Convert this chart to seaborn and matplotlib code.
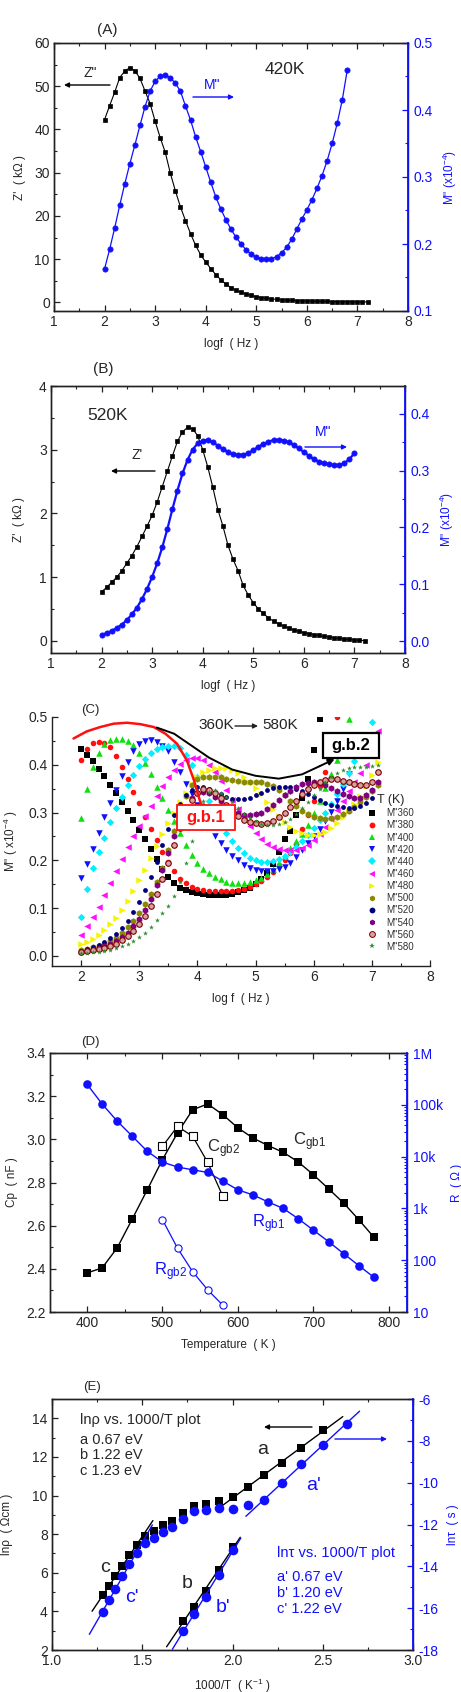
import numpy as np
import matplotlib
matplotlib.use("Agg")
import matplotlib.pyplot as plt
import seaborn as sns
from matplotlib.ticker import MultipleLocator, LogLocator, FixedLocator, FixedFormatter, NullFormatter
from matplotlib.lines import Line2D
from matplotlib.patches import Rectangle

# ------------------------------------------------------------------ data
# Panel A (420 K): Z'' (kOhm) and M'' (x1e-4) vs log f, step 0.1 starting at logf = 2.0
A_ZPP = [42.3, 45.5, 48.6, 52.0, 53.5, 54.3, 53.6, 51.8, 48.9, 46.0,
         41.9, 38.1, 34.7, 29.9, 25.8, 22.1, 18.9, 15.9, 13.2, 11.0,
         9.3, 7.8, 6.4, 5.2, 4.2, 3.4, 2.8, 2.3, 1.95, 1.6,
         1.3, 1.1, 0.95, 0.8, 0.7, 0.6, 0.52, 0.46, 0.4, 0.36,
         0.32, 0.28, 0.25, 0.22, 0.2, 0.18, 0.16, 0.14, 0.13, 0.12,
         0.11, 0.1, 0.09]
A_MPP = [0.163, 0.192, 0.224, 0.258, 0.290, 0.320, 0.348, 0.377, 0.405, 0.428,
         0.443, 0.450, 0.452, 0.448, 0.440, 0.428, 0.406, 0.385, 0.360, 0.338,
         0.315, 0.292, 0.270, 0.252, 0.236, 0.222, 0.210, 0.200, 0.191, 0.185,
         0.180, 0.178, 0.177, 0.178, 0.181, 0.187, 0.195, 0.207, 0.222, 0.237,
         0.251, 0.266, 0.283, 0.302, 0.324, 0.350, 0.380, 0.415, 0.460]

# Panel B (520 K)
B_ZP = [0.77, 0.84, 0.92, 1.0, 1.1, 1.22, 1.34, 1.48, 1.64, 1.8,
        1.97, 2.18, 2.42, 2.66, 2.9, 3.13, 3.28, 3.35, 3.33, 3.22,
        3.0, 2.73, 2.41, 2.06, 1.8, 1.5, 1.28, 1.1, 0.87, 0.72,
        0.6, 0.5, 0.43, 0.36, 0.31, 0.27, 0.23, 0.2, 0.17, 0.15,
        0.13, 0.115, 0.1, 0.085, 0.07, 0.06, 0.05, 0.04, 0.03, 0.022,
        0.015, 0.01, 0.005]
B_MPP = [0.011, 0.014, 0.018, 0.023, 0.029, 0.037, 0.047, 0.059, 0.074, 0.092,
         0.113, 0.137, 0.165, 0.197, 0.232, 0.265, 0.295, 0.319, 0.337, 0.348,
         0.353, 0.354, 0.350, 0.344, 0.338, 0.333, 0.329, 0.328, 0.328, 0.331,
         0.336, 0.342, 0.347, 0.351, 0.354, 0.354, 0.353, 0.350, 0.345, 0.339,
         0.333, 0.326, 0.320, 0.316, 0.313, 0.311, 0.310, 0.310, 0.313, 0.320,
         0.331]

# Panel C: M'' spectra 360 K ... 580 K, step 0.1 starting at logf = 2.0
C_M360 = [0.432, 0.420, 0.408, 0.392, 0.376, 0.358, 0.340, 0.322, 0.303, 0.284,
          0.264, 0.244, 0.223, 0.203, 0.183, 0.166, 0.153, 0.143, 0.137, 0.133,
          0.131, 0.129, 0.128, 0.127, 0.127, 0.128, 0.130, 0.133, 0.137, 0.142,
          0.150, 0.160, 0.173, 0.193, 0.218, 0.245, 0.262, 0.295, 0.330, 0.370,
          0.430, 0.495]
C_M380 = [0.410, 0.432, 0.445, 0.448, 0.446, 0.437, 0.418, 0.396, 0.370, 0.344,
          0.320, 0.291, 0.266, 0.243, 0.218, 0.196, 0.177, 0.162, 0.152, 0.145,
          0.141, 0.138, 0.136, 0.135, 0.135, 0.135, 0.136, 0.138, 0.141, 0.145,
          0.150, 0.157, 0.165, 0.176, 0.190, 0.200, 0.215, 0.235, 0.265, 0.295,
          0.325, 0.355, 0.385, 0.430, 0.500]
C_M400 = [0.288, 0.350, 0.395, 0.425, 0.443, 0.452, 0.455, 0.455, 0.450, 0.442,
          0.425, 0.403, 0.380, 0.354, 0.330, 0.305, 0.282, 0.257, 0.233, 0.212,
          0.195, 0.183, 0.174, 0.166, 0.160, 0.155, 0.153, 0.152, 0.152, 0.154,
          0.158, 0.164, 0.172, 0.182, 0.195, 0.210, 0.225, 0.240, 0.255, 0.275,
          0.300, 0.325, 0.352, 0.380, 0.410, 0.450, 0.495]
C_M420 = A_MPP
C_M440 = [0.082, 0.140, 0.185, 0.218, 0.246, 0.280, 0.310, 0.333, 0.358, 0.378,
          0.397, 0.412, 0.424, 0.432, 0.438, 0.440, 0.440, 0.436, 0.420, 0.400,
          0.375, 0.350, 0.325, 0.300, 0.277, 0.257, 0.240, 0.226, 0.215, 0.206,
          0.200, 0.197, 0.197, 0.199, 0.203, 0.210, 0.218, 0.228, 0.240, 0.254,
          0.268, 0.284, 0.300, 0.318, 0.338, 0.360, 0.383, 0.408, 0.435, 0.460,
          0.490]
C_M460 = [0.044, 0.062, 0.082, 0.103, 0.128, 0.152, 0.177, 0.202, 0.227, 0.250,
          0.272, 0.293, 0.313, 0.334, 0.355, 0.374, 0.390, 0.402, 0.410, 0.414,
          0.415, 0.410, 0.400, 0.385, 0.367, 0.347, 0.327, 0.307, 0.288, 0.272,
          0.258, 0.245, 0.235, 0.228, 0.224, 0.222, 0.221, 0.222, 0.226, 0.233,
          0.243, 0.255, 0.270, 0.287, 0.305, 0.325, 0.345, 0.365, 0.382, 0.400,
          0.430, 0.470]
C_M480 = [0.026, 0.030, 0.036, 0.044, 0.054, 0.066, 0.080, 0.096, 0.114, 0.136,
          0.158, 0.180, 0.205, 0.230, 0.255, 0.278, 0.300, 0.322, 0.342, 0.360,
          0.374, 0.384, 0.390, 0.393, 0.394, 0.393, 0.389, 0.382, 0.374, 0.365,
          0.352, 0.338, 0.323, 0.307, 0.292, 0.280, 0.270, 0.262, 0.257, 0.254,
          0.253, 0.255, 0.260, 0.268, 0.278, 0.290, 0.303, 0.318, 0.335, 0.355,
          0.378, 0.405]
C_M500 = [0.013, 0.015, 0.018, 0.021, 0.026, 0.031, 0.038, 0.048, 0.060, 0.074,
          0.090, 0.108, 0.130, 0.155, 0.185, 0.222, 0.262, 0.300, 0.335, 0.358,
          0.370, 0.374, 0.375, 0.375, 0.374, 0.371, 0.368, 0.366, 0.365, 0.364,
          0.364, 0.363, 0.360, 0.355, 0.347, 0.336, 0.324, 0.313, 0.303, 0.296,
          0.291, 0.288, 0.287, 0.288, 0.291, 0.296, 0.303, 0.312, 0.322, 0.333,
          0.345, 0.358]
C_M520 = B_MPP
C_M540 = [0.009, 0.011, 0.013, 0.016, 0.020, 0.025, 0.031, 0.039, 0.049, 0.062,
          0.078, 0.097, 0.120, 0.148, 0.180, 0.215, 0.250, 0.282, 0.310, 0.330,
          0.341, 0.343, 0.340, 0.333, 0.324, 0.314, 0.305, 0.299, 0.295, 0.294,
          0.296, 0.300, 0.307, 0.316, 0.326, 0.336, 0.345, 0.353, 0.359, 0.362,
          0.363, 0.362, 0.358, 0.352, 0.345, 0.339, 0.334, 0.331, 0.331, 0.336,
          0.348, 0.365]
C_M560 = [0.009, 0.010, 0.012, 0.014, 0.017, 0.021, 0.026, 0.033, 0.042, 0.053,
          0.067, 0.084, 0.105, 0.130, 0.160, 0.195, 0.232, 0.268, 0.300, 0.326,
          0.342, 0.349, 0.348, 0.341, 0.330, 0.316, 0.303, 0.292, 0.285, 0.280,
          0.278, 0.277, 0.278, 0.282, 0.290, 0.300, 0.312, 0.325, 0.338, 0.349,
          0.358, 0.365, 0.369, 0.371, 0.370, 0.367, 0.363, 0.359, 0.357, 0.358,
          0.365, 0.385]
C_M580 = [0.006, 0.007, 0.008, 0.009, 0.011, 0.013, 0.016, 0.020, 0.025, 0.031,
          0.039, 0.049, 0.061, 0.076, 0.090, 0.105, 0.125, 0.155, 0.195, 0.240,
          0.290, 0.325, 0.343, 0.347, 0.342, 0.333, 0.322, 0.310, 0.298, 0.289,
          0.282, 0.277, 0.275, 0.274, 0.276, 0.280, 0.287, 0.297, 0.309, 0.322,
          0.336, 0.350, 0.363, 0.374, 0.383, 0.389, 0.393, 0.395, 0.396, 0.396,
          0.397, 0.400]
C_TEMPS = [360, 380, 400, 420, 440, 460, 480, 500, 520, 540, 560, 580]
C_SERIES = [C_M360, C_M380, C_M400, C_M420, C_M440, C_M460,
            C_M480, C_M500, C_M520, C_M540, C_M560, C_M580]
# guide curves (annotation arrows) in panel C
C_RED_GUIDE_X = [1.87, 2.10, 2.33, 2.56, 2.79, 3.02, 3.25, 3.45, 3.65, 3.82, 3.94, 4.05, 4.12]
C_RED_GUIDE_Y = [0.455, 0.470, 0.479, 0.486, 0.488, 0.485, 0.479, 0.465, 0.444, 0.409, 0.368, 0.322, 0.300]
C_BLK_GUIDE_X = [3.30, 3.60, 3.90, 4.20, 4.60, 5.00, 5.40, 5.80, 6.10, 6.36]
C_BLK_GUIDE_Y = [0.478, 0.465, 0.440, 0.415, 0.390, 0.377, 0.371, 0.380, 0.397, 0.412]

# Panel D
D_T = [400, 420, 440, 460, 480, 500, 520, 540, 560, 580, 600, 620, 640, 660, 680, 700, 720, 740, 760, 780]
D_CGB1 = [2.381, 2.404, 2.497, 2.631, 2.767, 2.906, 3.03, 3.137, 3.164, 3.114,
          3.053, 3.006, 2.971, 2.94, 2.895, 2.836, 2.771, 2.705, 2.628, 2.547]
D_RGB1 = [250000, 104000, 48400, 24800, 12600, 7850, 6280, 5570, 4940, 3360,
          2280, 1820, 1330, 1000, 630, 380, 229, 134, 79, 47]
D_T2 = [500, 520, 540, 560, 580]
D_CGB2 = [2.968, 3.06, 3.014, 2.893, 2.736]
D_RGB2 = [604, 170, 60, 26.7, 13.5]

# Panel E
E_T_RHO = [780, 760, 740, 720, 700, 680, 660, 640, 620, 600, 580, 560, 540, 520, 500, 480, 460, 440, 420, 400]
E_LNRHO = [4.84, 5.30, 5.82, 6.35, 6.90, 7.45, 7.88, 8.16, 8.45, 8.67,
           9.08, 9.48, 9.56, 9.74, 9.91, 10.42, 11.08, 11.71, 12.45, 13.38]
E_T_TAU = [780, 760, 740, 720, 700, 680, 660, 640, 620, 600, 580, 560, 540, 520, 500, 480, 460, 440, 420, 400, 380]
E_LNTAU = [-16.17, -15.62, -15.06, -14.47, -13.90, -13.36, -12.88, -12.63, -12.36, -12.12,
           -11.72, -11.36, -11.29, -11.20, -11.24, -11.05, -10.85, -10.00, -9.13, -8.19, -7.19]
E_T_B = [580, 560, 540, 520, 500]
E_LNRHO_B = [3.50, 4.24, 5.06, 6.13, 7.33]
E_LNTAU_B = [-17.08, -16.30, -15.49, -14.42, -13.20]

# ------------------------------------------------------------------ style
sns.set_style("ticks")
plt.rcParams["font.family"] = ["Liberation Sans", "DejaVu Sans"]
plt.rcParams["mathtext.fontset"] = "custom"
plt.rcParams["mathtext.rm"] = "Liberation Sans"
plt.rcParams["mathtext.it"] = "Liberation Sans:italic"
plt.rcParams["mathtext.bf"] = "Liberation Sans:bold"
plt.rcParams["axes.linewidth"] = 1.0
plt.rcParams["axes.edgecolor"] = "#222222"
plt.rcParams["axes.unicode_minus"] = False

W, H = 461, 1692
fig = plt.figure(figsize=(W / 100, H / 100), dpi=100)
BLUE = "#1010ff"


def box(l, t, r, b):
    return [l / W, 1 - b / H, (r - l) / W, (b - t) / H]


def P(x, y):
    return (x / W, 1 - y / H)


def grid(vals):
    return np.round(2.0 + 0.1 * np.arange(len(vals)), 2)


def style(ax, xmaj, xmin, ymaj, ymin, top=True, labelsize=10):
    ax.xaxis.set_major_locator(MultipleLocator(xmaj))
    ax.xaxis.set_minor_locator(MultipleLocator(xmin))
    ax.yaxis.set_major_locator(MultipleLocator(ymaj))
    ax.yaxis.set_minor_locator(MultipleLocator(ymin))
    ax.tick_params(which="both", direction="in", top=top, right=False,
                   labelsize=labelsize, pad=3, color="#222222")
    ax.tick_params(which="major", length=4, width=0.9)
    ax.tick_params(which="minor", length=2, width=0.8)


def style_twin(tw):
    tw.tick_params(axis="y", which="both", direction="in", colors=BLUE, labelsize=10, pad=4)
    tw.tick_params(axis="y", which="major", length=4, width=0.9)
    tw.tick_params(axis="y", which="minor", length=2, width=0.8)
    tw.spines["right"].set_color(BLUE)
    tw.spines["right"].set_linewidth(1.3)


def arrow(ax, start, end, color, lw=1.0):
    ax.annotate("", xy=P(*end), xytext=P(*start), xycoords="figure fraction",
                textcoords="figure fraction",
                arrowprops=dict(arrowstyle="-|>", color=color, lw=lw, mutation_scale=7,
                                shrinkA=0, shrinkB=0))


def ftext(x, y, s, **kw):
    fig.text(*P(x, y), s, **kw)


# ------------------------------------------------------------------ panel A
axA = fig.add_axes(box(54, 43, 408, 311))
sns.lineplot(x=grid(A_ZPP), y=A_ZPP, ax=axA, color="black", marker="s", markersize=3.4,
             markeredgewidth=0.5, markeredgecolor="black", linewidth=0.8,
             estimator=None, sort=False, legend=False)
axA.set_xlim(1, 8)
axA.set_ylim(-2, 60)
style(axA, 1, 0.5, 10, 5)
axA.set_xlabel("logf  ( Hz )", fontsize=8.5, labelpad=6)
axA.set_ylabel("Z'  ( k\u03a9 )", fontsize=8.5, labelpad=6)
twA = axA.twinx()
sns.lineplot(x=grid(A_MPP), y=A_MPP, ax=twA, color=BLUE, marker="o", markersize=3.8,
             markeredgewidth=0.5, markeredgecolor=BLUE, linewidth=0.9,
             estimator=None, sort=False, legend=False)
twA.set_ylim(0.1, 0.5)
twA.yaxis.set_major_locator(MultipleLocator(0.1))
twA.yaxis.set_minor_locator(MultipleLocator(0.05))
style_twin(twA)
twA.set_ylabel('M" (x10$^{-4}$)', fontsize=8.5, color=BLUE, labelpad=6)
ftext(107, 30, "(A)", fontsize=11, ha="center", va="center")
ftext(90, 73, 'Z"', fontsize=10, ha="center", va="center")
arrow(twA, (110, 85), (64, 85), "black")
ftext(212, 85, 'M"', fontsize=10, ha="center", va="center", color=BLUE)
arrow(twA, (193, 97), (234, 97), BLUE)
ftext(285, 70, "420K", fontsize=12.5, ha="center", va="center")

# ------------------------------------------------------------------ panel B
axB = fig.add_axes(box(51, 386, 405, 653))
sns.lineplot(x=grid(B_ZP), y=B_ZP, ax=axB, color="black", marker="s", markersize=3.4,
             markeredgewidth=0.5, markeredgecolor="black", linewidth=0.8,
             estimator=None, sort=False, legend=False)
axB.set_xlim(1, 8)
axB.set_ylim(-0.19, 4)
style(axB, 1, 0.5, 1, 0.5)
axB.set_xlabel("logf  ( Hz )", fontsize=8.5, labelpad=6)
axB.set_ylabel("Z'  ( k\u03a9 )", fontsize=8.5, labelpad=10)
twB = axB.twinx()
sns.lineplot(x=grid(B_MPP), y=B_MPP, ax=twB, color=BLUE, marker="o", markersize=3.8,
             markeredgewidth=0.5, markeredgecolor=BLUE, linewidth=1.6,
             estimator=None, sort=False, legend=False)
twB.set_ylim(-0.021, 0.449)
twB.yaxis.set_major_locator(MultipleLocator(0.1))
twB.yaxis.set_minor_locator(MultipleLocator(0.05))
style_twin(twB)
twB.set_ylabel('M" (x10$^{-4}$)', fontsize=8.5, color=BLUE, labelpad=6)
ftext(103, 369, "(B)", fontsize=11, ha="center", va="center")
ftext(108, 415, "520K", fontsize=12.5, ha="center", va="center")
ftext(137, 455, "Z'", fontsize=10, ha="center", va="center")
arrow(twB, (155, 471), (111, 471), "black")
ftext(323, 432, 'M"', fontsize=10, ha="center", va="center", color=BLUE)
arrow(twB, (305, 447), (347, 447), BLUE)

# ------------------------------------------------------------------ panel C
axC = fig.add_axes(box(52, 717, 430, 966))
C_STYLE = [("s", "black", "black", 14),
           ("o", "#ff1010", "#ff1010", 16),
           ("^", "#10e010", "#10e010", 22),
           ("v", "#1010ff", "#1010ff", 22),
           ("D", "#00f0ff", "#00f0ff", 14),
           ("<", "#ff10ff", "#ff10ff", 22),
           (">", "#f5f500", "#f5f500", 22),
           ("h", "#8a8a00", "#8a8a00", 22),
           ("o", "#000080", "#000080", 12),
           ("h", "#800080", "#800080", 22),
           ("o", "#d8a0a0", "#7a0000", 16),
           ("*", "#2e8b2e", "#2e8b2e", 14)]
handles = []
for T, vals, (m, fc, ec, s) in zip(C_TEMPS, C_SERIES, C_STYLE):
    sns.scatterplot(x=grid(vals), y=vals, ax=axC, marker=m, s=s, color=fc,
                    edgecolor=ec, linewidth=0.8 if fc != ec else 0, legend=False, zorder=3)
    handles.append(Line2D([], [], marker=m, linestyle="", markersize=4.2,
                          markerfacecolor=fc, markeredgecolor=ec,
                          markeredgewidth=0.7 if fc != ec else 0))
axC.plot(C_RED_GUIDE_X[:-1], C_RED_GUIDE_Y[:-1], color="#ff1010", lw=1.8, zorder=5)
axC.annotate("", xy=(C_RED_GUIDE_X[-1], C_RED_GUIDE_Y[-1]),
             xytext=(C_RED_GUIDE_X[-2], C_RED_GUIDE_Y[-2]),
             arrowprops=dict(arrowstyle="-|>", color="#ff1010", lw=1.8, mutation_scale=9,
                             shrinkA=0, shrinkB=0), zorder=5)
axC.plot(C_BLK_GUIDE_X[:-1], C_BLK_GUIDE_Y[:-1], color="black", lw=1.4, zorder=5)
axC.annotate("", xy=(C_BLK_GUIDE_X[-1], C_BLK_GUIDE_Y[-1]),
             xytext=(C_BLK_GUIDE_X[-2], C_BLK_GUIDE_Y[-2]),
             arrowprops=dict(arrowstyle="-|>", color="black", lw=1.4, mutation_scale=9,
                             shrinkA=0, shrinkB=0), zorder=5)
axC.add_patch(Rectangle((3.645, 0.264), 1.0, 0.052, facecolor="white", edgecolor="#ff1010",
                        lw=1.3, zorder=6))
axC.text(4.145, 0.290, "g.b.1", color="#ff1010", fontsize=12, fontweight="bold",
         ha="center", va="center", zorder=7)
axC.add_patch(Rectangle((6.155, 0.415), 0.975, 0.052, facecolor="white", edgecolor="black",
                        lw=1.6, zorder=6))
axC.text(6.64, 0.441, "g.b.2", color="black", fontsize=12, fontweight="bold",
         ha="center", va="center", zorder=7)
axC.set_xlim(1.5, 8)
axC.set_ylim(-0.021, 0.5)
style(axC, 1, 0.5, 0.1, 0.05, top=False)
sns.despine(ax=axC)
axC.yaxis.set_major_formatter(matplotlib.ticker.FormatStrFormatter("%.1f"))
axC.set_xlabel("log f  ( Hz )", fontsize=8.5, labelpad=6)
axC.set_ylabel('M" ( x10$^{-4}$ )', fontsize=8.5, labelpad=6)
axC.legend(handles, ['M"%d' % t for t in C_TEMPS], loc="upper left",
           bbox_to_anchor=(0.835, 0.69), frameon=False, fontsize=7, title="T (K)",
           title_fontsize=9, labelspacing=0.22, handlelength=1.0, handletextpad=0.9,
           borderaxespad=0, borderpad=0, labelcolor="#333333")
ftext(90, 710, "(C)", fontsize=9.5, ha="center", va="center")
ftext(216, 725, "360K", fontsize=11, ha="center", va="center", color="#222222")
arrow(axC, (235, 726), (258, 726), "#222222")
ftext(280, 725, "580K", fontsize=11, ha="center", va="center", color="#222222")

# ------------------------------------------------------------------ panel D
axD = fig.add_axes(box(50, 1053, 407, 1312))
sns.lineplot(x=D_T, y=D_CGB1, ax=axD, color="black", marker="s", markersize=6.2,
             markeredgewidth=0, linewidth=1.0, estimator=None, sort=False, legend=False)
sns.lineplot(x=D_T2, y=D_CGB2, ax=axD, color="black", marker="s", markersize=5.2,
             markerfacecolor="white", markeredgecolor="black", markeredgewidth=0.8,
             linewidth=0.9, estimator=None, sort=False, legend=False)
axD.set_xlim(351, 824)
axD.set_ylim(2.2, 3.4)
style(axD, 100, 50, 0.2, 0.1)
axD.yaxis.set_major_formatter(matplotlib.ticker.FormatStrFormatter("%.1f"))
axD.set_xlabel("Temperature  ( K )", fontsize=8.5, labelpad=6)
axD.set_ylabel("Cp  ( nF )", fontsize=8.5, labelpad=6)
twD = axD.twinx()
sns.lineplot(x=D_T, y=D_RGB1, ax=twD, color=BLUE, marker="o", markersize=6.2,
             markeredgewidth=0, linewidth=1.0, estimator=None, sort=False, legend=False)
sns.lineplot(x=D_T2, y=D_RGB2, ax=twD, color=BLUE, marker="o", markersize=5.2,
             markerfacecolor="white", markeredgecolor=BLUE, markeredgewidth=0.8,
             linewidth=0.9, estimator=None, sort=False, legend=False)
twD.set_yscale("log")
twD.set_ylim(10, 1e6)
twD.yaxis.set_major_locator(FixedLocator([10, 100, 1e3, 1e4, 1e5, 1e6]))
twD.yaxis.set_major_formatter(FixedFormatter(["10", "100", "1k", "10k", "100k", "1M"]))
twD.yaxis.set_minor_locator(LogLocator(base=10, subs=np.arange(2, 10), numticks=20))
twD.yaxis.set_minor_formatter(NullFormatter())
style_twin(twD)
twD.set_ylabel("R  ( \u03a9 )", fontsize=8.5, color=BLUE, labelpad=6)
ftext(90, 1042, "(D)", fontsize=9.5, ha="center", va="center")
ftext(293, 1142, r"C$_{\mathregular{gb1}}$", fontsize=12, ha="left", va="center")
ftext(207, 1149, r"C$_{\mathregular{gb2}}$", fontsize=12, ha="left", va="center")
ftext(252, 1224, r"R$_{\mathregular{gb1}}$", fontsize=12, ha="left", va="center", color=BLUE)
ftext(154, 1272, r"R$_{\mathregular{gb2}}$", fontsize=12, ha="left", va="center", color=BLUE)

# ------------------------------------------------------------------ panel E
axE = fig.add_axes(box(52, 1399, 413, 1650))
x_rho = 1000.0 / np.array(E_T_RHO)
x_tau = 1000.0 / np.array(E_T_TAU)
x_b = 1000.0 / np.array(E_T_B)
rho = np.array(E_LNRHO)
tau = np.array(E_LNTAU)


def fitline(ax, x, y, xr, color):
    k, c = np.polyfit(x, y, 1)
    xs = np.array(xr)
    ax.plot(xs, k * xs + c, color=color, lw=1.0, zorder=2)


fitline(axE, x_rho[x_rho >= 1.99], rho[x_rho >= 1.99], [1.935, 2.611], "black")
fitline(axE, x_rho[:6], rho[:6], [1.222, 1.559], "black")
fitline(axE, x_b, np.array(E_LNRHO_B), [1.635, 2.043], "black")
sns.scatterplot(x=x_rho, y=rho, ax=axE, marker="s", s=40, color="black", linewidth=0,
                legend=False, zorder=3)
sns.scatterplot(x=x_b, y=E_LNRHO_B, ax=axE, marker="s", s=40, color="black", linewidth=0,
                legend=False, zorder=3)
axE.set_xlim(1.0, 3.0)
axE.set_ylim(2, 15)
style(axE, 0.5, 0.25, 2, 1)
axE.xaxis.set_major_formatter(matplotlib.ticker.FormatStrFormatter("%.1f"))
axE.set_xlabel("1000/T  ( K$^{-1}$ )", fontsize=8.5, labelpad=6)
axE.set_ylabel("ln\u03c1  ( \u03a9cm )", fontsize=8.5, labelpad=14)
twE = axE.twinx()
fitline(twE, x_tau[x_tau >= 2.15], tau[x_tau >= 2.15], [2.074, 2.704], BLUE)
fitline(twE, x_tau[:6], tau[:6], [1.207, 1.556], BLUE)
fitline(twE, x_b, np.array(E_LNTAU_B), [1.667, 2.046], BLUE)
sns.scatterplot(x=x_tau, y=tau, ax=twE, marker="o", s=48, color=BLUE, linewidth=0,
                legend=False, zorder=3)
sns.scatterplot(x=x_b, y=E_LNTAU_B, ax=twE, marker="o", s=48, color=BLUE, linewidth=0,
                legend=False, zorder=3)
twE.set_ylim(-18, -6)
twE.yaxis.set_major_locator(MultipleLocator(2))
twE.yaxis.set_minor_locator(MultipleLocator(1))
style_twin(twE)
twE.set_ylabel("ln\u03c4  ( s )", fontsize=8.5, color=BLUE, labelpad=6)
ftext(92, 1387, "(E)", fontsize=9.5, ha="center", va="center")
ftext(80, 1420, "ln\u03c1 vs. 1000/T plot", fontsize=10.5, ha="left", va="center")
ftext(80, 1440, "a 0.67 eV", fontsize=10.5, ha="left", va="center")
ftext(80, 1455, "b 1.22 eV", fontsize=10.5, ha="left", va="center")
ftext(80, 1471, "c 1.23 eV", fontsize=10.5, ha="left", va="center")
ftext(277, 1553, "ln\u03c4 vs. 1000/T plot", fontsize=10.5, ha="left", va="center", color=BLUE)
ftext(277, 1577, "a' 0.67 eV", fontsize=10.5, ha="left", va="center", color=BLUE)
ftext(277, 1593, "b' 1.20 eV", fontsize=10.5, ha="left", va="center", color=BLUE)
ftext(277, 1609, "c' 1.22 eV", fontsize=10.5, ha="left", va="center", color=BLUE)
ftext(263, 1450, "a", fontsize=14, ha="center", va="center")
ftext(313, 1485, "a'", fontsize=14, ha="center", va="center", color=BLUE)
ftext(105, 1567, "c", fontsize=14, ha="center", va="center")
ftext(132, 1597, "c'", fontsize=14, ha="center", va="center", color=BLUE)
ftext(187, 1583, "b", fontsize=14, ha="center", va="center")
ftext(223, 1607, "b'", fontsize=14, ha="center", va="center", color=BLUE)
arrow(twE, (312, 1427), (264, 1427), "black")
arrow(twE, (335, 1439), (387, 1439), BLUE)

fig.savefig("out.png", dpi=100)
